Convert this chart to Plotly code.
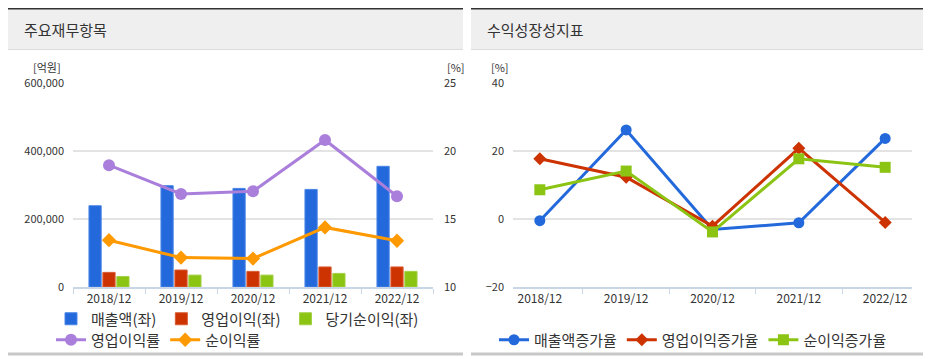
import plotly.graph_objects as go

W, H = 931, 359
OFF = 8  # page body margin offset compensation

years = ["2018/12", "2019/12", "2020/12", "2021/12", "2022/12"]

# Left chart: 주요재무항목 (억원, %)
revenue = [239000, 298000, 290000, 287000, 355000]
op_income = [43000, 50000, 46000, 59000, 59000]
net_income = [31000, 35000, 35000, 40000, 46000]
op_margin = [18.96, 16.84, 17.04, 20.81, 16.67]
net_margin = [13.44, 12.16, 12.09, 14.38, 13.40]

left_ticks = [0, 200000, 400000, 600000]
left_ticklabels = ["0", "200,000", "400,000", "600,000"]
right_ticks = [10, 15, 20, 25]

# Right chart: 수익성장성지표 (%)
rev_growth = [-0.5, 26.2, -3.1, -1.1, 23.7]
op_growth = [17.7, 12.3, -2.1, 20.8, -1.0]
net_growth = [8.6, 14.1, -3.8, 17.7, 15.2]
growth_ticks = [-20, 0, 20, 40]

FONT = "Noto Sans CJK KR, Malgun Gothic, sans-serif"
TXT = "#333333"
GRID = "#e3e3e3"
AXL = "#c9d6e6"

def px(x):
    return (x - OFF) / W

def py(y):
    return 1 - (y - OFF) / H

fig = go.Figure()

# Bars
fig.add_trace(go.Bar(x=years, y=revenue, name="매출액(좌)", marker=dict(color="#2369dc", line=dict(color="#4a86e8", width=1)),
                     xaxis="x", yaxis="y", legend="legend", offsetgroup="a"))
fig.add_trace(go.Bar(x=years, y=op_income, name="영업이익(좌)", marker=dict(color="#cc3300", line=dict(color="#d95c33", width=1)),
                     xaxis="x", yaxis="y", legend="legend", offsetgroup="b"))
fig.add_trace(go.Bar(x=years, y=net_income, name="당기순이익(좌)", marker=dict(color="#8cc414", line=dict(color="#a3d146", width=1)),
                     xaxis="x", yaxis="y", legend="legend", offsetgroup="c"))

# Lines on right axis
fig.add_trace(go.Scatter(x=years, y=op_margin, name="영업이익률", mode="lines+markers",
                         line=dict(color="#aa7fdc", width=3), marker=dict(symbol="circle", size=12, color="#aa7fdc"),
                         xaxis="x", yaxis="y2", legend="legend2"))
fig.add_trace(go.Scatter(x=years, y=net_margin, name="순이익률", mode="lines+markers",
                         line=dict(color="#ff9900", width=3), marker=dict(symbol="diamond", size=11, color="#ff9900"),
                         xaxis="x", yaxis="y2", legend="legend2"))

# Right chart lines
fig.add_trace(go.Scatter(x=years, y=rev_growth, name="매출액증가율", mode="lines+markers",
                         line=dict(color="#2369dc", width=3), marker=dict(symbol="circle", size=11, color="#2369dc"),
                         xaxis="x3", yaxis="y3", legend="legend3"))
fig.add_trace(go.Scatter(x=years, y=op_growth, name="영업이익증가율", mode="lines+markers",
                         line=dict(color="#cc3300", width=3), marker=dict(symbol="diamond", size=10, color="#cc3300"),
                         xaxis="x3", yaxis="y3", legend="legend3"))
fig.add_trace(go.Scatter(x=years, y=net_growth, name="순이익증가율", mode="lines+markers",
                         line=dict(color="#8cc414", width=3), marker=dict(symbol="square", size=11, color="#8cc414"),
                         xaxis="x3", yaxis="y3", legend="legend3"))

shapes = []
annotations = []
for (x0, x1, title) in [(8, 463, "주요재무항목"), (471, 926, "수익성장성지표")]:
    shapes.append(dict(type="rect", xref="paper", yref="paper", x0=px(x0), x1=px(x1), y0=py(49), y1=py(9),
                       fillcolor="#efefef", line=dict(width=0), layer="below"))
    shapes.append(dict(type="rect", xref="paper", yref="paper", x0=px(x0), x1=px(x1), y0=py(9.5), y1=py(7),
                       fillcolor="#333333", line=dict(width=0)))
    shapes.append(dict(type="line", xref="paper", yref="paper", x0=px(x0), x1=px(x1), y0=py(49.5), y1=py(49.5),
                       line=dict(color="#dddddd", width=1)))
    shapes.append(dict(type="line", xref="paper", yref="paper", x0=px(x0), x1=px(x1), y0=py(354), y1=py(354),
                       line=dict(color="#c8c8c8", width=3)))
    annotations.append(dict(text=title, xref="paper", yref="paper", x=px(x0 + 14), y=py(30), xanchor="left",
                            yanchor="middle", showarrow=False, font=dict(family=FONT, size=15, color=TXT)))

annotations.append(dict(text="[억원]", xref="paper", yref="paper", x=px(63), y=py(67), xanchor="right", yanchor="middle",
                        showarrow=False, font=dict(family=FONT, size=11, color=TXT)))
annotations.append(dict(text="[%]", xref="paper", yref="paper", x=px(445), y=py(67), xanchor="left", yanchor="middle",
                        showarrow=False, font=dict(family=FONT, size=11, color=TXT)))
annotations.append(dict(text="[%]", xref="paper", yref="paper", x=px(511), y=py(67), xanchor="right", yanchor="middle",
                        showarrow=False, font=dict(family=FONT, size=11, color=TXT)))

tickfont = dict(family=FONT, size=11, color=TXT)
legfont = dict(family=FONT, size=15, color=TXT)

fig.update_layout(
    template="none",
    width=W, height=H, margin=dict(l=0, r=0, t=0, b=0, pad=0, autoexpand=False),
    paper_bgcolor="white", plot_bgcolor="white",
    font=dict(family=FONT, color=TXT),
    barmode="group", bargap=0.42, bargroupgap=0.12,
    shapes=shapes, annotations=annotations,
    xaxis=dict(domain=[px(73), px(433)], anchor="y", type="category", tickson="boundaries", ticks="outside",
               ticklen=5, tickcolor=AXL, showline=True, linecolor=AXL, linewidth=2, showgrid=False, automargin=False,
               tickfont=dict(family=FONT, size=12, color=TXT)),
    yaxis=dict(domain=[py(287), py(83)], range=[0, 600000], tickvals=left_ticks, ticktext=left_ticklabels,
               showgrid=True, gridcolor=GRID, gridwidth=2, zeroline=False, showline=False, ticks="", automargin=False,
               ticklabelstandoff=8, tickfont=tickfont),
    yaxis2=dict(overlaying="y", side="right", anchor="x", range=[10, 25], tickvals=right_ticks, showgrid=False,
                zeroline=False, showline=False, ticks="", ticklabelstandoff=10, tickfont=tickfont, automargin=False),
    xaxis3=dict(domain=[px(513), px(912)], anchor="y3", type="category", tickson="boundaries", ticks="outside",
                ticklen=5, tickcolor=AXL, showline=True, linecolor=AXL, linewidth=2, showgrid=False, automargin=False,
                tickfont=dict(family=FONT, size=12, color=TXT)),
    yaxis3=dict(domain=[py(287), py(83)], anchor="x3", range=[-20, 40], tickvals=growth_ticks, showgrid=True,
                gridcolor=GRID, gridwidth=2, zeroline=False, showline=False, ticks="", ticklabelstandoff=8,
                tickfont=tickfont, automargin=False),
    legend=dict(orientation="h", x=px(51), y=py(319), xanchor="left", yanchor="middle",
                font=legfont, bgcolor="rgba(0,0,0,0)", tracegroupgap=0,
                itemwidth=30, traceorder="normal"),
    legend2=dict(orientation="h", x=px(51), y=py(340), xanchor="left", yanchor="middle",
                 font=legfont, bgcolor="rgba(0,0,0,0)", itemwidth=30),
    legend3=dict(orientation="h", x=px(494), y=py(340), xanchor="left", yanchor="middle",
                 font=legfont, bgcolor="rgba(0,0,0,0)", itemwidth=30),
)

fig.write_html("out.html")
